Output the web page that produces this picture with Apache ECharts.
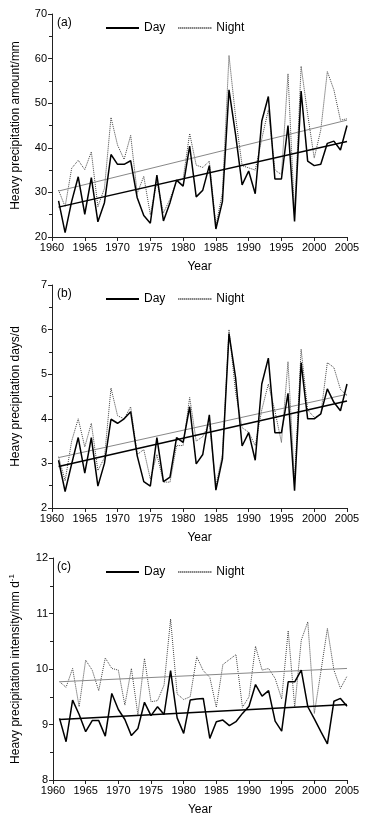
<!DOCTYPE html>
<html>
<head>
<meta charset="utf-8">
<script src="https://cdn.jsdelivr.net/npm/echarts@6/dist/echarts.min.js"></script>
<style>
html,body{margin:0;padding:0;background:#fff;}
#main{width:366px;height:820px;}
</style>
</head>
<body>
<div id="main"></div>
<script>
// ---- data ----
const years = [1961,1962,1963,1964,1965,1966,1967,1968,1969,1970,
  1971,1972,1973,1974,1975,1976,1977,1978,1979,1980,
  1981,1982,1983,1984,1985,1986,1987,1988,1989,1990,
  1991,1992,1993,1994,1995,1996,1997,1998,1999,2000,
  2001,2002,2003,2004,2005];

const amountDay = [28.1,21.0,28.0,33.5,25.1,33.3,23.4,27.7,38.5,36.3,
  36.3,37.1,28.8,24.8,23.1,33.9,23.6,27.7,32.75,31.4,
  40.4,29.0,30.5,36.0,21.8,28.0,53.0,43.0,31.7,34.8,
  29.7,46.0,51.5,33.0,33.0,45.0,23.5,52.7,37.0,36.0,
  36.3,41.0,41.5,39.5,45.0];
const amountNight = [30.5,26.8,35.4,37.2,35.1,39.1,26.8,30.9,46.8,40.6,
  37.4,42.8,29.8,33.6,25.0,32.5,25.4,28.5,32.5,33.0,
  43.2,36.1,35.6,37.0,22.5,30.0,60.7,47.0,36.0,35.5,
  35.0,42.0,48.5,35.0,34.0,56.6,25.0,58.3,47.5,37.7,
  44.0,57.1,53.0,46.2,46.5];

const daysDay = [3.07,2.37,2.99,3.58,2.78,3.58,2.49,3.0,3.99,3.9,
  4.0,4.16,3.17,2.59,2.49,3.58,2.59,2.69,3.58,3.47,
  4.27,2.99,3.2,4.09,2.4,3.1,5.91,4.93,3.39,3.69,
  3.07,4.78,5.36,3.69,3.69,4.57,2.39,5.26,4.0,4.0,
  4.11,4.67,4.37,4.18,4.78];
const daysNight = [3.15,2.61,3.5,4.0,3.37,3.9,2.84,3.13,4.69,4.07,
  4.0,4.27,3.2,3.31,2.65,3.2,2.58,2.58,3.4,3.4,
  4.48,3.5,3.6,3.9,2.5,3.2,6.0,4.6,3.8,3.7,
  3.4,4.2,4.78,4.18,3.47,5.28,2.6,5.56,4.2,4.03,
  4.1,5.26,5.15,4.66,4.52];

const intensityDay = [9.11,8.69,9.44,9.18,8.87,9.07,9.07,8.79,9.56,9.27,
  9.09,8.8,8.93,9.4,9.16,9.32,9.18,9.97,9.12,8.84,
  9.44,9.46,9.47,8.75,9.05,9.08,8.98,9.05,9.2,9.33,
  9.72,9.51,9.61,9.06,8.88,9.77,9.77,9.98,9.32,9.1,
  8.87,8.65,9.42,9.47,9.33];
const intensityNight = [9.77,9.67,10.01,9.32,10.16,9.98,9.61,10.2,10.01,9.98,
  9.35,10.01,9.17,10.19,9.41,9.43,9.71,10.9,9.55,9.45,
  9.5,10.22,9.97,9.85,9.31,10.08,10.17,10.26,9.31,9.5,
  10.41,9.98,10.01,9.83,9.46,10.69,9.31,10.52,10.85,9.2,
  9.95,10.73,9.98,9.65,9.87];

// linear trend lines: values at the first and last year
const trendYears = [1961, 2005];
const amountDayTrend = [26.7, 41.4];
const amountNightTrend = [30.3, 46.2];
const daysDayTrend = [2.93, 4.40];
const daysNightTrend = [3.13, 4.55];
const intensityDayTrend = [9.09, 9.36];
const intensityNightTrend = [9.77, 10.01];

const panelLabels = ['(a)', '(b)', '(c)'];
const yNames = ['Heavy precipitation amount/mm', 'Heavy precipitation days/d', null];
const yRanges = [[20, 70, 10], [2, 7, 1], [8, 12, 1]];
const xRange = [1960, 2005, 5];

// ---- chart ----
const FONT = 'Liberation Sans, Arial, sans-serif';
const pair = (xs, ys) => xs.map((x, i) => [x, ys[i]]);
const tops = [14, 285, 558];
const heights = [223, 223, 222];

const grids = tops.map((t, i) => ({left: 52, right: 19, top: t, height: heights[i]}));

const xAxes = tops.map((t, i) => ({
  type: 'value', gridIndex: i, min: xRange[0], max: xRange[1], interval: xRange[2],
  name: 'Year', nameLocation: 'middle', nameGap: 24,
  nameTextStyle: {fontFamily: FONT, fontSize: 12, color: '#000'},
  axisLine: {show: true, onZero: false, lineStyle: {color: '#222', width: 1}},
  axisTick: {show: true, length: 4, lineStyle: {color: '#222'}},
  axisLabel: {fontFamily: FONT, fontSize: 11, color: '#000', margin: 5, formatter: v => String(v)},
  splitLine: {show: false}
}));

const yAxes = tops.map((t, i) => {
  const ax = {
    type: 'value', gridIndex: i, min: yRanges[i][0], max: yRanges[i][1], interval: yRanges[i][2],
    nameLocation: 'middle', nameGap: 30, nameRotate: 90,
    nameTextStyle: {fontFamily: FONT, fontSize: 12, color: '#000'},
    axisLine: {show: true, lineStyle: {color: '#222', width: 1}},
    axisTick: {show: true, length: 4, lineStyle: {color: '#222'}},
    minorTick: {show: true, splitNumber: 2, length: 3, lineStyle: {color: '#222'}},
    axisLabel: {fontFamily: FONT, fontSize: 11, color: '#000', margin: 5, formatter: v => String(v)},
    splitLine: {show: false}
  };
  if (yNames[i]) {
    ax.name = yNames[i];
  } else {
    ax.name = '{a|Heavy precipitation intensity/mm d}{s|-1}';
    ax.nameTextStyle.rich = {
      a: {fontFamily: FONT, fontSize: 12, color: '#000'},
      s: {fontFamily: FONT, fontSize: 8, color: '#000', padding: [0, 0, 7, 0]}
    };
  }
  return ax;
});

const dayStyle = {color: '#000', width: 1.5, type: 'solid'};
const nightStyle = {color: '#444', width: 1, type: [1, 1]};
const dayTrendStyle = {color: '#000', width: 1.5, type: 'solid'};
const nightTrendStyle = {color: '#888', width: 1, type: 'solid'};

const panels = [
  [amountDay, amountNight, amountDayTrend, amountNightTrend],
  [daysDay, daysNight, daysDayTrend, daysNightTrend],
  [intensityDay, intensityNight, intensityDayTrend, intensityNightTrend]
];

const series = [];
panels.forEach((p, i) => {
  series.push({name: 'Night', type: 'line', xAxisIndex: i, yAxisIndex: i, data: pair(years, p[1]),
    symbol: 'none', lineStyle: nightStyle, itemStyle: {color: '#444'}, z: 2, animation: false});
  series.push({name: 'Night trend', type: 'line', xAxisIndex: i, yAxisIndex: i, data: pair(trendYears, p[3]),
    symbol: 'none', lineStyle: nightTrendStyle, itemStyle: {color: '#888'}, z: 3, animation: false});
  series.push({name: 'Day', type: 'line', xAxisIndex: i, yAxisIndex: i, data: pair(years, p[0]),
    symbol: 'none', lineStyle: dayStyle, itemStyle: {color: '#000'}, z: 4, animation: false});
  series.push({name: 'Day trend', type: 'line', xAxisIndex: i, yAxisIndex: i, data: pair(trendYears, p[2]),
    symbol: 'none', lineStyle: dayTrendStyle, itemStyle: {color: '#000'}, z: 5, animation: false});
});

const legends = tops.map((t) => ({
  data: ['Day', 'Night'], left: 100, top: t + 3, itemWidth: 33, itemHeight: 10, itemGap: 12,
  itemStyle: {opacity: 0},
  textStyle: {fontFamily: FONT, fontSize: 12, color: '#000'}, selectedMode: false
}));

const graphics = tops.map((t, i) => ({
  type: 'text', left: 57, top: t + 3,
  style: {text: panelLabels[i], font: '12px ' + FONT, fill: '#000'}
}));

const chart = echarts.init(document.getElementById('main'), null, {renderer: 'canvas'});
chart.setOption({
  animation: false,
  backgroundColor: '#fff',
  grid: grids,
  xAxis: xAxes,
  yAxis: yAxes,
  legend: legends,
  graphic: graphics,
  series: series
});
</script>
</body>
</html>
